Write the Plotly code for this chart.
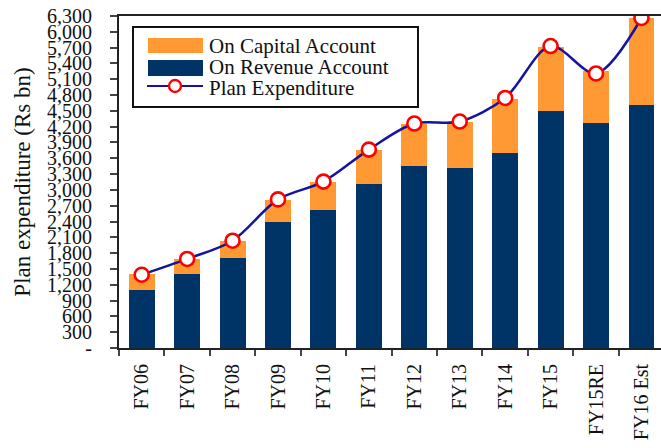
import plotly.graph_objects as go

categories = ["FY06", "FY07", "FY08", "FY09", "FY10", "FY11", "FY12", "FY13", "FY14", "FY15", "FY15RE", "FY16 Est"]
revenue_account = [1110, 1413, 1717, 2400, 2627, 3120, 3462, 3424, 3709, 4505, 4278, 4619]
capital_account = [290, 285, 322, 417, 531, 645, 797, 873, 1024, 1215, 986, 1637]
plan_expenditure = [1390, 1690, 2036, 2820, 3158, 3765, 4259, 4297, 4745, 5730, 5210, 6262]
ytick_vals = list(range(0, 6301, 300))
ytick_text = ["-"] + [f"{v:,}" for v in ytick_vals[1:]]

W, H = 661, 448
ML, MR, MT, MB = 119, 0, 16, 100
PW, PH = W - ML - MR, H - MT - MB

NAVY = "#003366"
ORANGE = "#FF9933"
LINE = "#1414A0"
RED = "#FF0000"
FONT = "Liberation Serif, Times New Roman, serif"


def px(x):
    return (x - ML) / PW


def py(y):
    return (H - MB - y) / PH


fig = go.Figure()
fig.add_trace(go.Bar(x=categories, y=revenue_account, name="On Revenue Account",
                     marker=dict(color=NAVY, line=dict(width=0)), width=0.57, showlegend=False))
fig.add_trace(go.Bar(x=categories, y=capital_account, name="On Capital Account",
                     marker=dict(color=ORANGE, line=dict(width=0)), width=0.57, showlegend=False))
fig.add_trace(go.Scatter(x=categories, y=plan_expenditure, name="Plan Expenditure", mode="lines+markers",
                         line=dict(color=LINE, width=2.5, shape="spline", smoothing=0.9),
                         marker=dict(symbol="circle", size=14, color="white", line=dict(color=RED, width=2.6)),
                         showlegend=False))

shapes = []
annotations = []
# legend box
shapes.append(dict(type="rect", xref="paper", yref="paper", x0=px(133), x1=px(418), y0=py(107), y1=py(27),
                   line=dict(color="#111111", width=2), fillcolor="white", layer="above"))
shapes.append(dict(type="rect", xref="paper", yref="paper", x0=px(148), x1=px(203), y0=py(53), y1=py(38),
                   line=dict(width=0), fillcolor=ORANGE, layer="above"))
shapes.append(dict(type="rect", xref="paper", yref="paper", x0=px(148), x1=px(203), y0=py(76), y1=py(60),
                   line=dict(width=0), fillcolor=NAVY, layer="above"))
shapes.append(dict(type="line", xref="paper", yref="paper", x0=px(147), x1=px(203), y0=py(86), y1=py(86),
                   line=dict(color=LINE, width=2), layer="above"))
shapes.append(dict(type="circle", xref="paper", yref="paper", xsizemode="pixel", ysizemode="pixel",
                   xanchor=px(175), yanchor=py(86), x0=-6, x1=6, y0=-6, y1=6,
                   line=dict(color=RED, width=2.4), fillcolor="white", layer="above"))
for label, yc in [("On Capital Account", 45.5), ("On Revenue Account", 67), ("Plan Expenditure", 88)]:
    annotations.append(dict(text=label, xref="paper", yref="paper", x=px(207), y=py(yc),
                            xanchor="left", yanchor="middle", showarrow=False,
                            font=dict(family=FONT, size=21, color="#111111")))

fig.update_layout(
    width=W, height=H,
    margin=dict(l=ML, r=MR, t=MT, b=MB, pad=0),
    paper_bgcolor="white", plot_bgcolor="white",
    barmode="stack", bargap=0.43,
    font=dict(family=FONT, color="#111111"),
    shapes=shapes, annotations=annotations,
    showlegend=False,
)
fig.update_xaxes(
    type="category", range=[-0.5, 11.43],
    showline=True, linecolor="#222222", linewidth=2, mirror=True,
    ticks="outside", ticklen=6, tickcolor="#444444", tickwidth=1.5, tickson="boundaries",
    tickangle=-90, tickfont=dict(family=FONT, size=20, color="#111111"),
    ticklabelstandoff=6,
    showgrid=False, zeroline=False, automargin=False,
)
fig.update_yaxes(
    range=[0, 6300], tickvals=ytick_vals, ticktext=ytick_text,
    showline=True, linecolor="#222222", linewidth=2,
    ticks="outside", ticklen=7, tickcolor="#444444", tickwidth=1.5,
    tickfont=dict(family=FONT, size=20, color="#111111"),
    ticklabelstandoff=14,
    showgrid=False, zeroline=False,
    title=dict(text="Plan expenditure (Rs bn)", font=dict(family=FONT, size=23, color="#111111"), standoff=10),
    automargin=False,
)

fig.write_html("out.html", config={"displayModeBar": False})
with open("out.html", "r", encoding="utf-8") as f:
    html = f.read()
html = html.replace("<head>", "<head><style>html,body{margin:0;padding:0;overflow:hidden;}</style>", 1)
with open("out.html", "w", encoding="utf-8") as f:
    f.write(html)
